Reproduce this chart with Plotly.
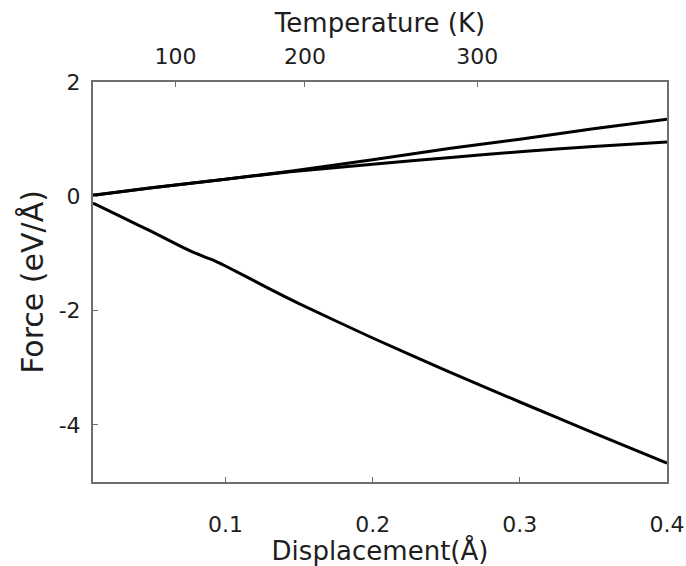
import plotly.graph_objects as go

# Displacement samples (Å) and force responses (eV/Å)
disp_a = [0.01, 0.05, 0.10, 0.144, 0.20, 0.253, 0.30, 0.35, 0.40]
force_a = [0.02, 0.15, 0.30, 0.44, 0.64, 0.84, 1.00, 1.18, 1.35]

disp_b = [0.01, 0.05, 0.10, 0.144, 0.20, 0.253, 0.30, 0.35, 0.40]
force_b = [0.02, 0.15, 0.30, 0.43, 0.56, 0.68, 0.78, 0.87, 0.95]

disp_c = [0.01, 0.03, 0.05, 0.07, 0.08, 0.09, 0.10, 0.13, 0.15,
          0.20, 0.25, 0.30, 0.35, 0.40]
force_c = [-0.12, -0.37, -0.62, -0.88, -1.00, -1.10, -1.22, -1.62, -1.88,
           -2.48, -3.05, -3.60, -4.14, -4.67]

# Temperature scale on the top axis, placed at the matching displacement
temp_labels = ["100", "200", "300"]
temp_disp = [0.066, 0.154, 0.271]

FONT = "'DejaVu Sans', sans-serif"
AXIS_GREY = "#6e6e6e"
TEXT = "#1e1e1e"

fig = go.Figure()
for xs, ys in [(disp_a, force_a), (disp_b, force_b), (disp_c, force_c)]:
    fig.add_trace(go.Scatter(x=xs, y=ys, mode="lines",
                             line=dict(color="black", width=3, shape="spline", smoothing=0.3),
                             showlegend=False, hoverinfo="skip"))

# invisible trace to bind the top axis
fig.add_trace(go.Scatter(x=[0.01, 0.4], y=[0, 0], xaxis="x2", mode="lines",
                         line=dict(width=0), showlegend=False, hoverinfo="skip"))

tick_font = dict(size=22, family=FONT, color=TEXT)
xtitle_font = dict(size=26, family=FONT, color=TEXT)
ytitle_font = dict(size=30, family=FONT, color=TEXT)

fig.update_layout(
    width=686, height=566,
    margin=dict(l=93, r=19, t=82, b=84),
    plot_bgcolor="white", paper_bgcolor="white",
    font=dict(family=FONT, color=TEXT, size=22),
    xaxis=dict(range=[0.01, 0.4], tickvals=[0.1, 0.2, 0.3, 0.4],
               ticktext=["0.1", "0.2", "0.3", "0.4"],
               showgrid=False, zeroline=False, showline=True,
               linecolor=AXIS_GREY, linewidth=2, automargin=False,
               ticks="inside", ticklen=5, tickcolor=AXIS_GREY,
               tickfont=tick_font, ticklabelstandoff=22,
               title=dict(text="Displacement(Å)", font=xtitle_font, standoff=2)),
    xaxis2=dict(range=[0.01, 0.4], overlaying="x", side="top",
                tickvals=temp_disp, ticktext=temp_labels,
                showgrid=False, zeroline=False, showline=True,
                linecolor=AXIS_GREY, linewidth=2, automargin=False,
                ticks="inside", ticklen=5, tickcolor=AXIS_GREY,
                tickfont=tick_font, ticklabelstandoff=7,
                title=dict(text="Temperature (K)", font=xtitle_font, standoff=4)),
    yaxis=dict(range=[-5, 2], tickvals=[-4, -2, 0, 2],
               ticktext=["-4", "-2", "0", "2"],
               showgrid=False, zeroline=False, showline=True,
               linecolor=AXIS_GREY, linewidth=2, mirror=True, automargin=False,
               ticks="inside", ticklen=5, tickcolor=AXIS_GREY,
               tickfont=tick_font, ticklabelstandoff=6,
               title=dict(text="Force (eV/Å)", font=ytitle_font, standoff=6)),
)

fig.write_html("out.html")
